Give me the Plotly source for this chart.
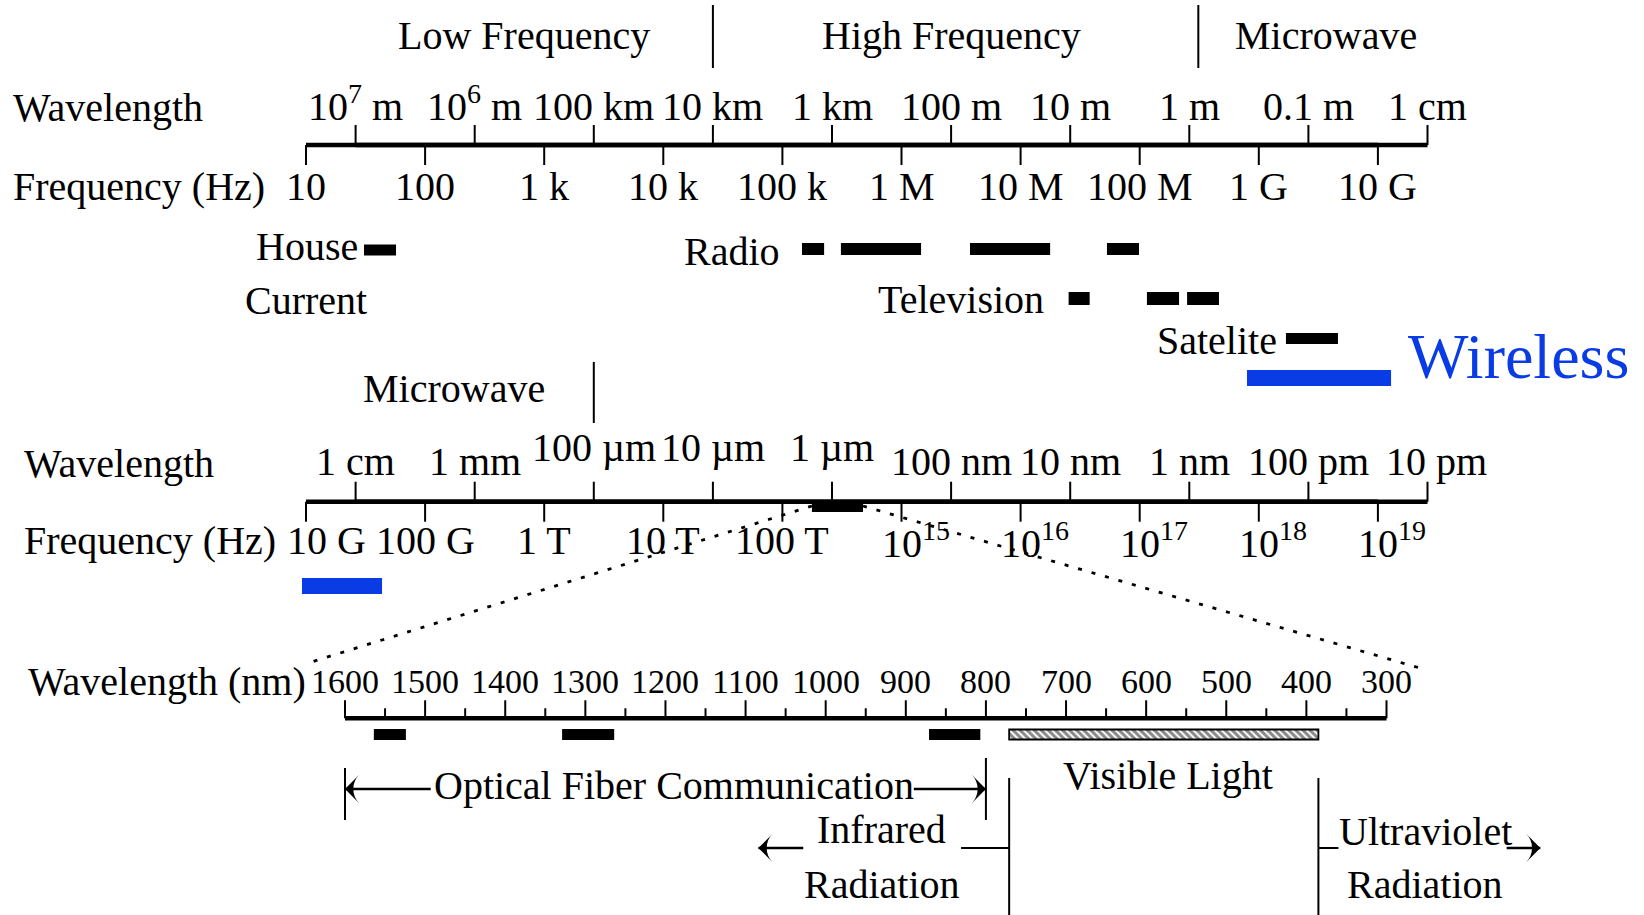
import numpy as np
import plotly.graph_objects as go

W, H = 1644, 915
FONT = "Liberation Serif"
FS = 40
FS_NM = 34
BLUE = "#0a3ce6"

# ---------------- data ----------------
# upper scale (Hz / metres)
top_freq_hz = [1e1, 1e2, 1e3, 1e4, 1e5, 1e6, 1e7, 1e8, 1e9, 1e10]
top_freq_labels = ["10", "100", "1 k", "10 k", "100 k", "1 M", "10 M", "100 M", "1 G", "10 G"]
top_wl_m = [1e7, 1e6, 1e5, 1e4, 1e3, 1e2, 1e1, 1e0, 1e-1, 1e-2]
top_wl_labels = ["10<sup>7</sup> m", "10<sup>6</sup> m", "100 km", "10 km", "1 km",
                 "100 m", "10 m", "1 m", "0.1 m", "1 cm"]
top_region_bounds_m = [1e4, 0.84]

house_current_hz = [(30.7, 57.0)]
radio_hz = [(1.46e5, 2.24e5), (3.1e5, 1.46e6), (3.76e6, 1.77e7), (5.31e7, 9.87e7)]
television_hz = [(2.53e7, 3.8e7), (1.15e8, 2.14e8), (2.5e8, 4.63e8)]
satellite_hz = [(1.69e9, 4.62e9)]
wireless_top_hz = [(7.96e8, 1.29e10)]

# middle scale
mid_freq_hz = [1e10, 1e11, 1e12, 1e13, 1e14, 1e15, 1e16, 1e17, 1e18, 1e19]
mid_freq_labels = ["10 G", "100 G", "1 T", "10 T", "100 T",
                   "10<sup>15</sup>", "10<sup>16</sup>", "10<sup>17</sup>", "10<sup>18</sup>", "10<sup>19</sup>"]
mid_wl_m = [1e-2, 1e-3, 1e-4, 1e-5, 1e-6, 1e-7, 1e-8, 1e-9, 1e-10, 1e-11]
mid_wl_labels = ["1 cm", "1 mm", "100 µm", "10 µm", "1 µm", "100 nm", "10 nm", "1 nm", "100 pm", "10 pm"]
mid_region_bound_m = [1e-4]
wireless_mid_hz = [(9.25e9, 4.35e10)]
optical_window_hz = [(1.77e14, 4.75e14)]

# lower scale (nm)
nm_major = list(range(1600, 299, -100))
nm_minor = list(range(1550, 349, -100))
fiber_bands_nm = [(1524, 1564), (1264, 1329), (807, 871)]
visible_nm = (385, 771)
fiber_span_nm = (1600, 800)
fiber_arrow_tails_nm = (1493, 890)
zoom_targets_nm = (1650, 250)
infrared_arrow_nm = (1028, 1084)
infrared_line_nm = (831, 771)
uv_line_nm = (385, 360)
uv_arrow_nm = (150, 108)

# ---------------- scales ----------------
DEC = 119.1  # px per decade


def log_range(log_at, px, reverse=False):
    if reverse:
        return [log_at + px / DEC, log_at - (W - px) / DEC]
    return [log_at - px / DEC, log_at + (W - px) / DEC]


NMPX = 1300.0 / (1386.5 - 345.0)
AX = {
    "x": (log_range(1, 306), True),
    "x2": (log_range(7, 355.6, True), True),
    "x3": (log_range(10, 306), True),
    "x4": (log_range(-2, 355.6, True), True),
    "x5": ([1600 + 345 * NMPX, 300 - (W - 1386.5) * NMPX], False),
}


def px_of(ax, v):
    (a, b), lg = AX[ax]
    t = np.log10(v) if lg else v
    return (t - a) / (b - a) * W


def val_at(ax, px):
    (a, b), lg = AX[ax]
    t = a + px / W * (b - a)
    return 10 ** t if lg else t


def ann_x(ax, v):
    return float(np.log10(v)) if AX[ax][1] else v


fig = go.Figure()


def lines(ax, xs, ys, width=2, color="black", dash=None):
    fig.add_trace(go.Scatter(x=xs, y=ys, mode="lines", xaxis=ax, yaxis="y",
                             line=dict(color=color, width=width, dash=dash),
                             hoverinfo="skip", showlegend=False))


def ticks(ax, vals, y0, y1, width=2):
    xs, ys = [], []
    for v in vals:
        xs += [v, v, None]
        ys += [y0, y1, None]
    lines(ax, xs, ys, width)


def bars(ax, bands, yc, thick, color="black"):
    lo = [min(b) for b in bands]
    ln = [max(b) - min(b) for b in bands]
    fig.add_trace(go.Bar(orientation="h", base=lo, x=ln, y=[yc] * len(bands), width=thick,
                         xaxis=ax, yaxis="y", marker=dict(color=color, line=dict(width=0)),
                         hoverinfo="skip", showlegend=False))


def arrow(ax, tail, tip, y):
    fig.add_trace(go.Scatter(x=[tail, tip], y=[y, y], mode="lines", xaxis=ax, yaxis="y",
                             line=dict(color="black", width=2.4),
                             hoverinfo="skip", showlegend=False))
    fig.add_trace(go.Scatter(x=[tail, tip], y=[y, y], mode="markers", xaxis=ax, yaxis="y",
                             marker=dict(symbol="arrow-wide", angleref="previous", size=[0, 20],
                                         color="black", opacity=1, line=dict(width=0, color="black")),
                             hoverinfo="skip", showlegend=False))


annotations = []


def text(s, x, cap_y, xref="paper", xanchor="center", size=FS, color="black", xshift=0):
    # place by cap-centre: convert to bottom of the font box
    base = cap_y + 0.331 * size
    annotations.append(dict(text=s, x=x, y=base + 0.216 * size, xref=xref, yref="y",
                            xanchor=xanchor, yanchor="bottom", showarrow=False,
                            xshift=xshift, borderpad=0, borderwidth=0,
                            font=dict(family=FONT, size=size, color=color)))


# ---------------- upper section ----------------
Y1 = 145
lines("x", [top_freq_hz[0], top_freq_hz[-1]], [Y1, Y1], 4.5)
lines("x2", [top_wl_m[0], top_wl_m[-1]], [Y1, Y1], 4.5)
ticks("x2", top_wl_m, Y1 - 20, Y1)
ticks("x", top_freq_hz, Y1, Y1 + 20)
ticks("x2", top_region_bounds_m, 5, 68)
for v, s in zip(top_wl_m, top_wl_labels):
    text(s, ann_x("x2", v), 107, xref="x2")
for v, s in zip(top_freq_hz, top_freq_labels):
    text(s, ann_x("x", v), 187.5, xref="x")

bars("x", house_current_hz, 250, 11)
bars("x", radio_hz, 249, 12)
bars("x", television_hz, 298.5, 13)
bars("x", satellite_hz, 338.5, 11)
bars("x", wireless_top_hz, 378, 16, color=BLUE)

text("Low Frequency", 524 / W, 36)
text("High Frequency", 951 / W, 36)
text("Microwave", 1326 / W, 36)
text("Wavelength", 13 / W, 108, xanchor="left")
text("Frequency (Hz)", 13 / W, 187, xanchor="left")
text("House", ann_x("x", house_current_hz[0][0]), 247.5, xref="x", xanchor="right", xshift=-6)
text("Current", 306 / W, 301)
text("Radio", ann_x("x", radio_hz[0][0]), 252.5, xref="x", xanchor="right", xshift=-22)
text("Television", ann_x("x", television_hz[0][0]), 300, xref="x", xanchor="right", xshift=-25)
text("Satelite", ann_x("x", satellite_hz[0][0]), 341, xref="x", xanchor="right", xshift=-9)
text("Wireless", 1408 / W, 357, xanchor="left", size=64, color=BLUE)

# ---------------- middle section ----------------
Y2 = 501.7
lines("x3", [mid_freq_hz[0], mid_freq_hz[-1]], [Y2, Y2], 4.5)
lines("x4", [mid_wl_m[0], mid_wl_m[-1]], [Y2, Y2], 4.5)
ticks("x4", mid_wl_m, Y2 - 20, Y2)
ticks("x3", mid_freq_hz, Y2, Y2 + 20)
ticks("x4", mid_region_bound_m, 362, 423)
bars("x3", optical_window_hz, 506, 12)
bars("x3", wireless_mid_hz, 586, 16, color=BLUE)

for v, s in zip(mid_wl_m, mid_wl_labels):
    raised = "µ" in s
    text(s, ann_x("x4", v), 448 if raised else 462, xref="x4",
         xshift=9 if s == "10 pm" else 0)
for i, (v, s) in enumerate(zip(mid_freq_hz, mid_freq_labels)):
    if "sup" in s:
        text(s, ann_x("x3", v), 544, xref="x3", xanchor="left", xshift=-20)
    else:
        text(s, ann_x("x3", v), 541.5, xref="x3", xshift=20 if i == 0 else 0)

text("Microwave", 454 / W, 389)
text("Wavelength", 23.5 / W, 464, xanchor="left")
text("Frequency (Hz)", 23.5 / W, 541.5, xanchor="left")

# zoom connectors (dotted)
Y3 = 718.3
for f, nm, yend in zip([optical_window_hz[0][0], optical_window_hz[0][1]], zoom_targets_nm, [664, 670]):
    xe = val_at("x3", px_of("x5", nm))
    lines("x3", [f, xe], [506, yend], 2.8, dash="4px,10px")

# ---------------- lower section ----------------
lines("x5", [nm_major[0], nm_major[-1]], [Y3, Y3], 4.5)
ticks("x5", nm_major, Y3 - 18, Y3)
ticks("x5", nm_minor, Y3 - 10, Y3)
for v in nm_major:
    text(str(v), v, 681, xref="x5", size=FS_NM)
text("Wavelength (nm)", 306 / W, 682, xanchor="right")

bars("x5", fiber_bands_nm, 734.5, 11)
fig.add_trace(go.Bar(orientation="h", base=[min(visible_nm)], x=[max(visible_nm) - min(visible_nm)],
                     y=[734.5], width=10, xaxis="x5", yaxis="y",
                     marker=dict(color="white", line=dict(color="black", width=1.8),
                                 pattern=dict(shape="\\", fgcolor="#111", bgcolor="white",
                                              size=5, solidity=0.6)),
                     hoverinfo="skip", showlegend=False))

# optical fibre bracket
lines("x5", [fiber_span_nm[0], fiber_span_nm[0], None, fiber_span_nm[1], fiber_span_nm[1]],
      [768, 820, None, 758, 820], 2)
arrow("x5", fiber_arrow_tails_nm[0], fiber_span_nm[0], 789)
arrow("x5", fiber_arrow_tails_nm[1], fiber_span_nm[1], 789)
text("Optical Fiber Communication", 434 / W, 786, xanchor="left")

# visible light boundaries
lines("x5", [visible_nm[1], visible_nm[1], None, visible_nm[0], visible_nm[0]],
      [778, 915, None, 778, 915], 2)
text("Visible Light", 1168 / W, 776)

# infrared / ultraviolet
lines("x5", list(infrared_line_nm), [848, 848], 2)
lines("x5", list(uv_line_nm), [848, 848], 2)
arrow("x5", infrared_arrow_nm[0], infrared_arrow_nm[1], 848)
arrow("x5", uv_arrow_nm[0], uv_arrow_nm[1], 848)
text("Infrared", 882 / W, 830)
text("Radiation", 882 / W, 885)
text("Ultraviolet", 1425 / W, 832)
text("Radiation", 1425 / W, 885)


# ---------------- layout ----------------
def xax(name, overlay=True):
    rng, lg = AX[name]
    d = dict(range=rng, type="log" if lg else "linear", domain=[0, 1], anchor="y",
             visible=False, showgrid=False, zeroline=False, fixedrange=True)
    if overlay:
        d["overlaying"] = "x"
    return d


fig.update_layout(
    width=W, height=H, margin=dict(l=0, r=0, t=0, b=0),
    paper_bgcolor="white", plot_bgcolor="white",
    barmode="overlay", showlegend=False,
    xaxis=xax("x", False), xaxis2=xax("x2"), xaxis3=xax("x3"),
    xaxis4=xax("x4"), xaxis5=xax("x5"),
    yaxis=dict(range=[H, 0], domain=[0, 1], visible=False, showgrid=False,
               zeroline=False, fixedrange=True),
    annotations=annotations,
    font=dict(family=FONT, size=FS, color="black"),
)

fig.write_html("out.html", config={"displayModeBar": False},
               post_script="document.body.style.margin='0px';document.body.style.overflow='hidden';")
